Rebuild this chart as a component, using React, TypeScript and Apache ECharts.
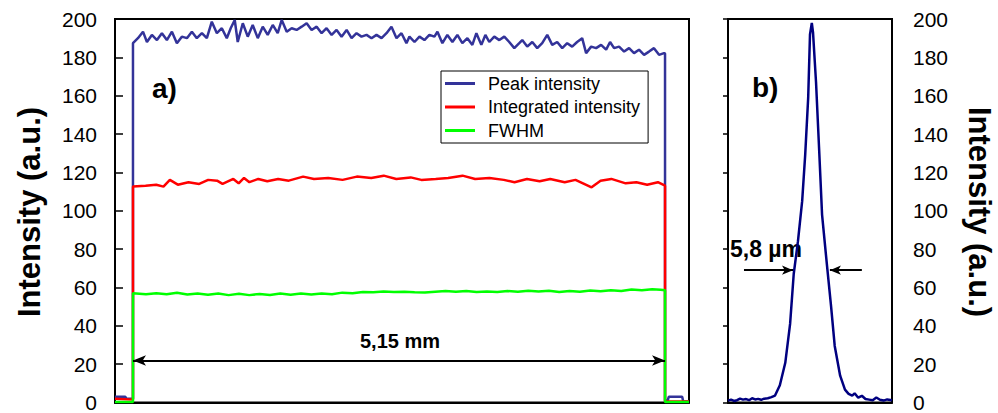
import React, { useEffect, useRef } from "react";
import * as echarts from "echarts";

// ---------- Panel a) : x in mm ----------
const blueX = [
  0, 0.1, 0.11, 0.174, 0.174,
  0.222, 0.271, 0.309, 0.357, 0.406, 0.454, 0.502, 0.551, 0.599, 0.647, 0.696, 0.744, 0.792, 0.841, 0.889,
  0.937, 0.986, 1.034, 1.082, 1.121, 1.159, 1.188, 1.237, 1.285, 1.333, 1.382, 1.43, 1.478, 1.527, 1.575,
  1.614, 1.662, 1.71, 1.758, 1.807, 1.855, 1.903, 1.952, 2.0, 2.048, 2.097, 2.145, 2.193, 2.242, 2.29,
  2.338, 2.386, 2.435, 2.483, 2.531, 2.58, 2.628, 2.676, 2.725, 2.773, 2.821,
  2.85, 2.899, 2.947, 2.995, 3.043, 3.092, 3.121, 3.169, 3.217, 3.266, 3.314, 3.362, 3.411, 3.459, 3.498,
  3.546, 3.585, 3.623, 3.671, 3.72, 3.768, 3.816, 3.865, 3.913, 3.942, 3.99, 4.039, 4.087, 4.135, 4.184,
  4.232, 4.28, 4.329, 4.377, 4.425, 4.473, 4.522, 4.56, 4.609, 4.657, 4.705, 4.754, 4.792, 4.831, 4.879,
  4.928, 4.976, 5.024, 5.072, 5.121, 5.169, 5.217, 5.266, 5.314,
  5.324, 5.324, 5.35, 5.36, 5.49, 5.5, 5.556,
];
const blueY = [
  3, 3, 2, 2, 187.4,
  190, 193.4, 188, 191.7, 189, 192.6, 189, 193.4, 187.4, 190.8, 190, 193.4, 190, 192.6, 190,
  198.6, 192.6, 195.2, 190, 195.3, 199.5, 188, 197.8, 190.8, 196.9, 190, 196, 191.7, 196.9, 192.6,
  199.5, 193.4, 195.2, 194.3, 196, 197.8, 194.3, 196, 192.6, 195.2, 191.7, 194.3, 190.8, 194.3, 190,
  192.6, 190.8, 191.7, 190, 191.7, 190, 192.6, 196, 190, 192.6, 187.4,
  190.8, 188, 190.8, 189, 191.7, 190.8, 193.4, 187.4, 191.7, 188, 191.7, 187.4, 190, 186.5, 192.6,
  186.5, 191.7, 188, 190.8, 189, 190.8, 188, 184.8, 187.4, 189, 185.6, 188, 184.8, 187.4, 191.7,
  186.5, 188, 184.8, 187.4, 185.6, 188, 190, 182.2, 185.6, 184.8, 186.5, 184, 188, 184.8, 185.6,
  183, 184.8, 182.2, 184, 181.3, 183, 184.8, 181.3, 182.2,
  182, 1, 1, 3, 3, 0.5, 0.5,
];

const redX = [
  0, 0.174, 0.174,
  0.296, 0.399, 0.469, 0.531, 0.608, 0.711, 0.815, 0.902, 0.988, 1.041, 1.145, 1.197, 1.249, 1.301,
  1.387, 1.474, 1.579, 1.682, 1.821, 1.926, 2.064, 2.203, 2.341, 2.48, 2.601, 2.723, 2.862, 2.965,
  3.104, 3.225, 3.364, 3.486, 3.624, 3.763, 3.867, 3.988, 4.11, 4.213, 4.353, 4.457, 4.613, 4.7,
  4.804, 4.943, 5.047, 5.151, 5.255, 5.324,
  5.324, 5.556,
];
const redY = [
  2, 1.5, 112.6,
  113.1, 113.6, 112.6, 116.1, 113.6, 114.9, 114, 116.1, 115.7, 114, 116.6, 114.3, 117.1, 114.9,
  116.6, 115.4, 116.6, 115.7, 117.8, 116.6, 117.1, 116.1, 117.8, 117.1, 118.3, 116.6, 117.4, 116.1,
  116.6, 117.1, 118.3, 116.6, 117.1, 116.1, 114.9, 116.6, 115.4, 116.6, 114.9, 116.1, 112.2, 115.7,
  116.6, 114.3, 114.9, 113.6, 114.9, 113.1,
  0.5, 0.5,
];

const greenX = [
  0, 0.174, 0.174,
  0.3, 0.4, 0.5, 0.6, 0.7, 0.8, 0.9, 1.0, 1.1, 1.2, 1.3, 1.4, 1.5, 1.6, 1.7, 1.8, 1.9, 2.0,
  2.1, 2.2, 2.3, 2.4, 2.5, 2.6, 2.7, 2.8, 2.9, 3.0, 3.1, 3.2, 3.3, 3.4, 3.5, 3.6, 3.7, 3.8, 3.9,
  4.0, 4.1, 4.2, 4.3, 4.4, 4.5, 4.6, 4.7, 4.8, 4.9, 5.0, 5.1, 5.2, 5.28, 5.324,
  5.324, 5.556,
];
const greenY = [
  0.3, 0.3, 57,
  56.5, 57, 56.5, 57.2, 56.3, 56.8, 56.2, 56.8, 56, 56.7, 56, 56.6, 56.1, 56.8, 56.2, 56.9, 56.3, 56.9,
  56.5, 57.3, 57, 57.6, 57.5, 57.9, 57.6, 57.8, 57.5, 57.4, 57.8, 58.2, 57.8, 58.1, 57.6, 57.9, 57.6, 58.1, 57.8,
  58.3, 57.9, 58.3, 57.6, 58.2, 57.7, 58.4, 58, 58.6, 58.2, 58.9, 58.6, 59.1, 58.8, 58.5,
  0.3, 0.3,
];

// arrow marking the 5,15 mm length (mm, intensity)
const lengthArrow = { x0: 0.174, x1: 5.324, y: 21.9 };

// ---------- Panel b) : x in µm ----------
const profX = [
  0, 0.5, 1, 1.5, 2, 2.5, 3, 3.5, 4, 4.5, 5, 5.5, 6, 6.6, 7.2, 7.8, 8.6, 9.5, 10.3, 10.9, 11.6, 12.3,
  12.8, 13.3, 13.6, 13.9, 14.1, 14.6, 15.1, 15.6, 16.4, 17.1, 17.7, 18.6, 19.4, 20.0, 20.6, 21.0, 21.6,
  22.2, 22.8, 23.4, 24, 24.6, 25.2, 25.8, 26.4, 27.2,
];
const profY = [
  1, 1.5, 0.8, 1.2, 2, 1.5, 1.8, 1.2, 2.2, 1.6, 1.9, 1.4, 2, 2.2, 2.8, 3.6, 9, 20.7, 41, 67, 84, 105,
  129, 159, 192, 198, 193, 167, 133, 98, 72, 50, 29.5, 14, 6.7, 4.5, 3.6, 4.8, 2.5, 3.5, 1.8,
  1.5, 1.2, 2.6, 1.4, 1, 1.6, 1.2,
];
const fwhmArrows = { leftFrom: 2.65, leftTo: 10.78, rightFrom: 22.2, rightTo: 16.9, y: 69 };

const seriesNames = ["Peak intensity", "Integrated intensity", "FWHM"];
const FONT = "'Liberation Sans', Arial, Helvetica, sans-serif";

const zip = (xs: number[], ys: number[]) => xs.map((x, i) => [x, ys[i]]);

export default function App() {
  const ref = useRef<HTMLDivElement>(null);
  useEffect(() => {
    if (!ref.current) return;
    const chart = echarts.init(ref.current, undefined, { renderer: "svg" });
    const yAxisCommon = {
      type: "value",
      min: 0,
      max: 200,
      interval: 20,
      splitLine: { show: false },
      axisLine: { show: true, lineStyle: { color: "#000", width: 2 } },
      axisLabel: { color: "#000", fontSize: 21, fontFamily: FONT },
    };
    chart.setOption({
      animation: false,
      backgroundColor: "#fff",
      grid: [
        { left: 115, top: 19, width: 574, height: 386, show: true, borderColor: "#000", borderWidth: 2 },
        { left: 728, top: 19, width: 164, height: 386, show: true, borderColor: "#000", borderWidth: 2 },
      ],
      xAxis: [
        { type: "value", gridIndex: 0, min: 0, max: 5.556, axisLabel: { show: false }, axisTick: { show: false }, splitLine: { show: false }, axisLine: { lineStyle: { color: "#000", width: 2 } } },
        { type: "value", gridIndex: 1, min: 0, max: 27.2, axisLabel: { show: false }, axisTick: { show: false }, splitLine: { show: false }, axisLine: { lineStyle: { color: "#000", width: 2 } } },
      ],
      yAxis: [
        {
          ...yAxisCommon,
          gridIndex: 0,
          position: "left",
          axisTick: { show: true, inside: true, length: 8, lineStyle: { color: "#000", width: 1.5 } },
          axisLabel: { ...yAxisCommon.axisLabel, margin: 18 },
        },
        {
          ...yAxisCommon,
          gridIndex: 1,
          position: "right",
          axisTick: { show: true, inside: true, length: 5, lineStyle: { color: "#000", width: 1.5 } },
          axisLabel: { ...yAxisCommon.axisLabel, margin: 21 },
        },
      ],
      legend: {
        data: seriesNames,
        orient: "vertical",
        left: 441,
        top: 71,
        padding: [3.5, 8, 3.5, 4],
        icon: "rect",
        itemWidth: 30,
        itemHeight: 3,
        itemGap: 5.5,
        borderColor: "#000",
        borderWidth: 1,
        borderRadius: 0,
        backgroundColor: "#fff",
        textStyle: { color: "#000", fontSize: 18, lineHeight: 18, fontFamily: FONT, padding: [0, 0, 0, 8] },
      },
      series: [
        {
          name: seriesNames[0],
          type: "line",
          xAxisIndex: 0,
          yAxisIndex: 0,
          symbol: "none",
          color: "#333399",
          lineStyle: { width: 2.5, color: "#333399" },
          data: zip(blueX, blueY),
        },
        {
          name: seriesNames[1],
          type: "line",
          xAxisIndex: 0,
          yAxisIndex: 0,
          symbol: "none",
          color: "#ff0000",
          lineStyle: { width: 2.5, color: "#ff0000" },
          data: zip(redX, redY),
        },
        {
          name: seriesNames[2],
          type: "line",
          xAxisIndex: 0,
          yAxisIndex: 0,
          symbol: "none",
          color: "#00ff00",
          lineStyle: { width: 2.5, color: "#00ff00" },
          data: zip(greenX, greenY),
          markLine: {
            silent: true,
            symbol: ["arrow", "arrow"],
            symbolSize: [8, 13],
            lineStyle: { color: "#000", width: 2, type: "solid" },
            label: { show: false },
            emphasis: { disabled: true },
            data: [[{ coord: [lengthArrow.x0, lengthArrow.y] }, { coord: [lengthArrow.x1, lengthArrow.y] }]],
          },
        },
        {
          name: "Profile",
          type: "line",
          xAxisIndex: 1,
          yAxisIndex: 1,
          symbol: "none",
          color: "#000080",
          lineStyle: { width: 2.5, color: "#000080" },
          data: zip(profX, profY),
          markLine: {
            silent: true,
            symbol: ["none", "arrow"],
            symbolSize: [7, 11],
            lineStyle: { color: "#000", width: 2, type: "solid" },
            label: { show: false },
            emphasis: { disabled: true },
            data: [
              [{ coord: [fwhmArrows.leftFrom, fwhmArrows.y] }, { coord: [fwhmArrows.leftTo, fwhmArrows.y] }],
              [{ coord: [fwhmArrows.rightFrom, fwhmArrows.y] }, { coord: [fwhmArrows.rightTo, fwhmArrows.y] }],
            ],
          },
        },
      ],
      graphic: [
        {
          type: "text",
          x: 29,
          y: 212,
          rotation: Math.PI / 2,
          style: { text: "Intensity (a.u.)", font: `bold 31px ${FONT}`, fill: "#000", textAlign: "center", textVerticalAlign: "middle" },
        },
        {
          type: "text",
          x: 979,
          y: 212,
          rotation: -Math.PI / 2,
          style: { text: "Intensity (a.u.)", font: `bold 31px ${FONT}`, fill: "#000", textAlign: "center", textVerticalAlign: "middle" },
        },
        {
          type: "text",
          x: 152,
          y: 88,
          style: { text: "a)", font: `bold 28px ${FONT}`, fill: "#000", textAlign: "left", textVerticalAlign: "middle" },
        },
        {
          type: "text",
          x: 752,
          y: 87,
          style: { text: "b)", font: `bold 28px ${FONT}`, fill: "#000", textAlign: "left", textVerticalAlign: "middle" },
        },
        {
          type: "text",
          x: 400,
          y: 341,
          style: { text: "5,15 mm", font: `bold 20px ${FONT}`, fill: "#000", textAlign: "center", textVerticalAlign: "middle" },
        },
        {
          type: "text",
          x: 730,
          y: 249,
          style: { text: "5,8 µm", font: `bold 23px ${FONT}`, fill: "#000", textAlign: "left", textVerticalAlign: "middle" },
        },
      ],
    });
    return () => chart.dispose();
  }, []);
  return (
    <div
      ref={ref}
      style={{ position: "fixed", left: 0, top: 0, width: 998, height: 413, background: "#fff" }}
    />
  );
}
